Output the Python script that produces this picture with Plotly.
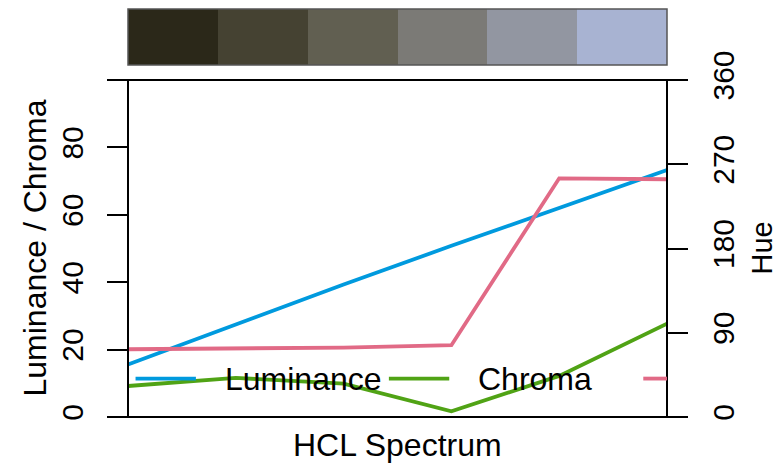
import plotly.graph_objects as go

# HCL spectrum of a six-colour sequential palette
swatches = ["#2B2819", "#454232", "#615F51", "#7B7A76", "#9296A1", "#A8B3D2"]
index = [0, 1, 2, 3, 4, 5]
luminance = [15.6, 27.5, 39.3, 50.8, 62.2, 73.3]
chroma = [9.2, 11.6, 9.9, 1.7, 12.2, 27.7]
hue = [72.4, 73.4, 74.2, 76.7, 255.0, 254.0]

left_ticks = [0, 20, 40, 60, 80, 100]
left_labels = ["0", "20", "40", "60", "80", ""]
right_ticks = [0, 90, 180, 270, 360]
right_labels = ["0", "90", "180", "270", "360"]

col_l, col_c, col_h = "#009ADE", "#50A315", "#E16A86"
FONT = "Liberation Sans, Arial, sans-serif"
W, H = 779, 463
ML, MR, MT, MB = 128, 112, 9, 46
plot_h = H - MT - MB
main_top = (417 - 80) / plot_h
bar_bottom = (417 - 65) / plot_h

fig = go.Figure()

# colour swatches along the top
fig.add_trace(go.Bar(
    x=index, y=[1] * len(index), width=1, marker=dict(color=swatches, line=dict(width=0)),
    xaxis="x2", yaxis="y3", showlegend=False, hoverinfo="skip"))

lw = 3.8
fig.add_trace(go.Scatter(x=index, y=luminance, mode="lines", line=dict(color=col_l, width=lw),
                         showlegend=False))
fig.add_trace(go.Scatter(x=index, y=chroma, mode="lines", line=dict(color=col_c, width=lw),
                         showlegend=False))
fig.add_trace(go.Scatter(x=index, y=hue, mode="lines", line=dict(color=col_h, width=lw),
                         yaxis="y2", showlegend=False))

axis_font = dict(family=FONT, size=30, color="black")
fig.update_layout(
    width=W, height=H,
    margin=dict(l=ML, r=MR, t=MT, b=MB, pad=0, autoexpand=False),
    paper_bgcolor="white", plot_bgcolor="white",
    font=dict(family=FONT, color="black"),
    xaxis=dict(domain=[0, 1], range=[0, 5], showticklabels=False, ticks="",
               showgrid=False, zeroline=False, showline=False, automargin=False),
    yaxis=dict(domain=[0, main_top], range=[0, 100], tickvals=left_ticks, ticktext=left_labels,
               ticks="outside", ticklen=20, tickwidth=2, tickcolor="black",
               tickangle=-90, tickfont=axis_font, ticklabelstandoff=12, automargin=False,
               showgrid=False, zeroline=False, showline=False),
    yaxis2=dict(overlaying="y", side="right", range=[0, 360], tickvals=right_ticks,
                ticktext=right_labels, ticks="outside", ticklen=20, tickwidth=2,
                tickcolor="black", tickangle=-90, tickfont=axis_font, ticklabelstandoff=10,
                automargin=False, showgrid=False, zeroline=False, showline=False),
    xaxis2=dict(domain=[0, 1], range=[-0.5, 5.5], anchor="y3", visible=False),
    yaxis3=dict(domain=[bar_bottom, 1], range=[0, 1], anchor="x2", visible=False),
    bargap=0,
)

# plot box and swatch frame
fig.add_shape(type="rect", xref="x domain", yref="y domain", x0=0, x1=1, y0=0, y1=1,
              line=dict(color="black", width=2), layer="above")
fig.add_shape(type="rect", xref="x2 domain", yref="y3 domain", x0=0, x1=1, y0=0, y1=1,
              line=dict(color="#555555", width=1.5), layer="above")

# legend along the bottom of the panel
leg_y = 11.4
legend_items = [(0.07, 0.63, 0.88, col_l, "Luminance"),
                (2.42, 2.98, 3.23, col_c, "Chroma"),
                (4.78, 5.0, None, col_h, None)]
for x0, x1, tx, c, label in legend_items:
    fig.add_shape(type="line", xref="x", yref="y", x0=x0, x1=x1, y0=leg_y, y1=leg_y,
                  line=dict(color=c, width=lw))
    if label:
        fig.add_annotation(x=tx, y=leg_y, xref="x", yref="y", text=label, showarrow=False,
                           xanchor="left", yanchor="middle",
                           font=dict(family=FONT, size=32, color="black"))

# axis titles
pw = W - ML - MR
fig.add_annotation(x=(34 - ML) / pw, y=main_top / 2, xref="paper", yref="paper",
                   text="Luminance / Chroma", textangle=-90, showarrow=False,
                   xanchor="center", yanchor="middle",
                   font=dict(family=FONT, size=32, color="black"))
fig.add_annotation(x=(761 - ML) / pw, y=main_top / 2, xref="paper", yref="paper",
                   text="Hue", textangle=-90, showarrow=False,
                   xanchor="center", yanchor="middle",
                   font=dict(family=FONT, size=29, color="black"))
fig.add_annotation(x=0.5, y=-(445 - 417) / plot_h, xref="paper", yref="paper",
                   text="HCL Spectrum", showarrow=False,
                   xanchor="center", yanchor="middle",
                   font=dict(family=FONT, size=32, color="black"))

fig.write_html("out.html")
